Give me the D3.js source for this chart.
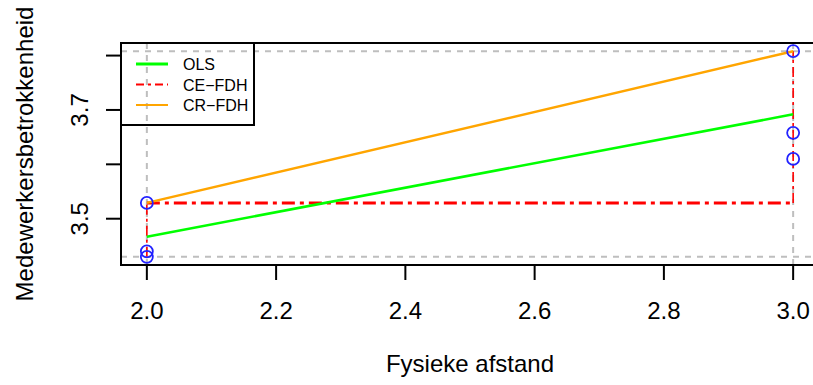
<!DOCTYPE html>
<html>
<head>
<meta charset="utf-8">
<script src="https://cdn.jsdelivr.net/npm/d3@7"></script>
<style>
  body { margin: 0; background: #fff; }
  svg text { font-family: "Liberation Sans", Arial, sans-serif; fill: #000; }
</style>
</head>
<body>
<svg id="chart" width="813" height="385"></svg>
<script>
'use strict';

// observations
var xVals = [2, 2, 2, 3, 3, 3];
var yVals = [3.529, 3.440, 3.430, 3.808, 3.658, 3.610];

// fitted lines
var olsLine = [[2, 3.467], [3, 3.692]];
var ceLine = [[2, 3.430], [2, 3.529], [3, 3.529], [3, 3.808]];
var crLine = [[2, 3.529], [3, 3.808]];

var xTicks = [2.0, 2.2, 2.4, 2.6, 2.8, 3.0];
var yTicks = [3.5, 3.6, 3.7, 3.8];
var yTickLabels = ['3.5', '', '3.7', ''];

var legendNames = ['OLS', 'CE\u2212FDH', 'CR\u2212FDH'];

var box = {left: 121, top: 43, right: 819, bottom: 265};

var xExt = d3.extent(xVals), yExt = d3.extent(yVals);
var xPad = (xExt[1] - xExt[0]) * 0.04, yPad = (yExt[1] - yExt[0]) * 0.04;

var x = d3.scaleLinear()
  .domain([xExt[0] - xPad, xExt[1] + xPad])
  .range([box.left, box.right]);
var y = d3.scaleLinear()
  .domain([yExt[0] - yPad, yExt[1] + yPad])
  .range([box.bottom, box.top]);

var svg = d3.select('#chart');
var line = d3.line().x(function(d) { return x(d[0]); }).y(function(d) { return y(d[1]); });

// gray reference lines at data bounds
var grid = svg.append('g')
  .attr('stroke', '#bebebe')
  .attr('stroke-width', 2)
  .attr('stroke-dasharray', '6,6');
yExt.forEach(function(v) {
  grid.append('line').attr('x1', box.left).attr('x2', box.right).attr('y1', y(v)).attr('y2', y(v));
});
xExt.forEach(function(v) {
  grid.append('line').attr('y1', box.top).attr('y2', box.bottom).attr('x1', x(v)).attr('x2', x(v));
});

// CE-FDH step: vertical parts thin, horizontal thick
ceLine.slice(1).forEach(function(p, i) {
  var q = ceLine[i];
  var horiz = p[1] === q[1];
  svg.append('line')
    .attr('x1', x(q[0])).attr('y1', y(q[1]))
    .attr('x2', x(p[0])).attr('y2', y(p[1]))
    .attr('stroke', '#ff0000')
    .attr('stroke-width', horiz ? 3 : 1.6)
    .attr('stroke-dasharray', horiz ? '13,5,4,5' : '10,4,3,4');
});

svg.append('path').datum(olsLine)
  .attr('d', line).attr('fill', 'none')
  .attr('stroke', '#00ff00').attr('stroke-width', 2.6);

svg.append('path').datum(crLine)
  .attr('d', line).attr('fill', 'none')
  .attr('stroke', '#ffa500').attr('stroke-width', 2.4);

svg.append('g').selectAll('circle')
  .data(xVals.map(function(v, i) { return [v, yVals[i]]; }))
  .enter().append('circle')
    .attr('cx', function(d) { return x(d[0]); })
    .attr('cy', function(d) { return y(d[1]); })
    .attr('r', 6)
    .attr('fill', 'none')
    .attr('stroke', '#2222ff')
    .attr('stroke-width', 1.8);

// frame
svg.append('rect')
  .attr('x', box.left).attr('y', box.top)
  .attr('width', box.right - box.left).attr('height', box.bottom - box.top)
  .attr('fill', 'none').attr('stroke', '#000').attr('stroke-width', 2);

// x axis
var xAxis = svg.append('g');
xAxis.selectAll('line').data(xTicks).enter().append('line')
  .attr('x1', function(d) { return x(d); }).attr('x2', function(d) { return x(d); })
  .attr('y1', box.bottom).attr('y2', box.bottom + 15)
  .attr('stroke', '#000').attr('stroke-width', 2);
xAxis.selectAll('text').data(xTicks).enter().append('text')
  .attr('x', function(d) { return x(d); })
  .attr('y', 319)
  .attr('text-anchor', 'middle')
  .style('font-size', '24px')
  .text(function(d) { return d3.format('.1f')(d); });

// y axis
var yAxis = svg.append('g');
yAxis.selectAll('line').data(yTicks).enter().append('line')
  .attr('y1', function(d) { return y(d); }).attr('y2', function(d) { return y(d); })
  .attr('x1', box.left - 15).attr('x2', box.left)
  .attr('stroke', '#000').attr('stroke-width', 2);
yAxis.selectAll('text').data(yTicks).enter().append('text')
  .attr('transform', function(d) { return 'translate(88,' + y(d) + ') rotate(-90)'; })
  .attr('text-anchor', 'middle')
  .style('font-size', '24px')
  .text(function(d, i) { return yTickLabels[i]; });

// axis titles
svg.append('text')
  .attr('x', (box.left + box.right) / 2).attr('y', 372)
  .attr('text-anchor', 'middle')
  .style('font-size', '24px')
  .text('Fysieke afstand');
svg.append('text')
  .attr('transform', 'translate(33,' + (box.top + box.bottom) / 2 + ') rotate(-90)')
  .attr('text-anchor', 'middle')
  .style('font-size', '24px')
  .text('Medewerkersbetrokkenheid');

// legend (no background, lines show through)
var leg = svg.append('g');
leg.append('rect')
  .attr('x', box.left).attr('y', box.top)
  .attr('width', 133).attr('height', 82)
  .attr('fill', 'none').attr('stroke', '#000').attr('stroke-width', 2);
var legStyles = [
  {color: '#00ff00', width: 3, dash: null},
  {color: '#ff0000', width: 2, dash: '8,4,3,4'},
  {color: '#ffa500', width: 2, dash: null}
];
legendNames.forEach(function(name, i) {
  var cy = 64 + i * 20.5;
  leg.append('line')
    .attr('x1', 136).attr('x2', 168).attr('y1', cy).attr('y2', cy)
    .attr('stroke', legStyles[i].color)
    .attr('stroke-width', legStyles[i].width)
    .attr('stroke-dasharray', legStyles[i].dash);
  leg.append('text')
    .attr('x', 183).attr('y', cy + 6)
    .style('font-size', '16px')
    .text(name);
});
</script>
</body>
</html>
